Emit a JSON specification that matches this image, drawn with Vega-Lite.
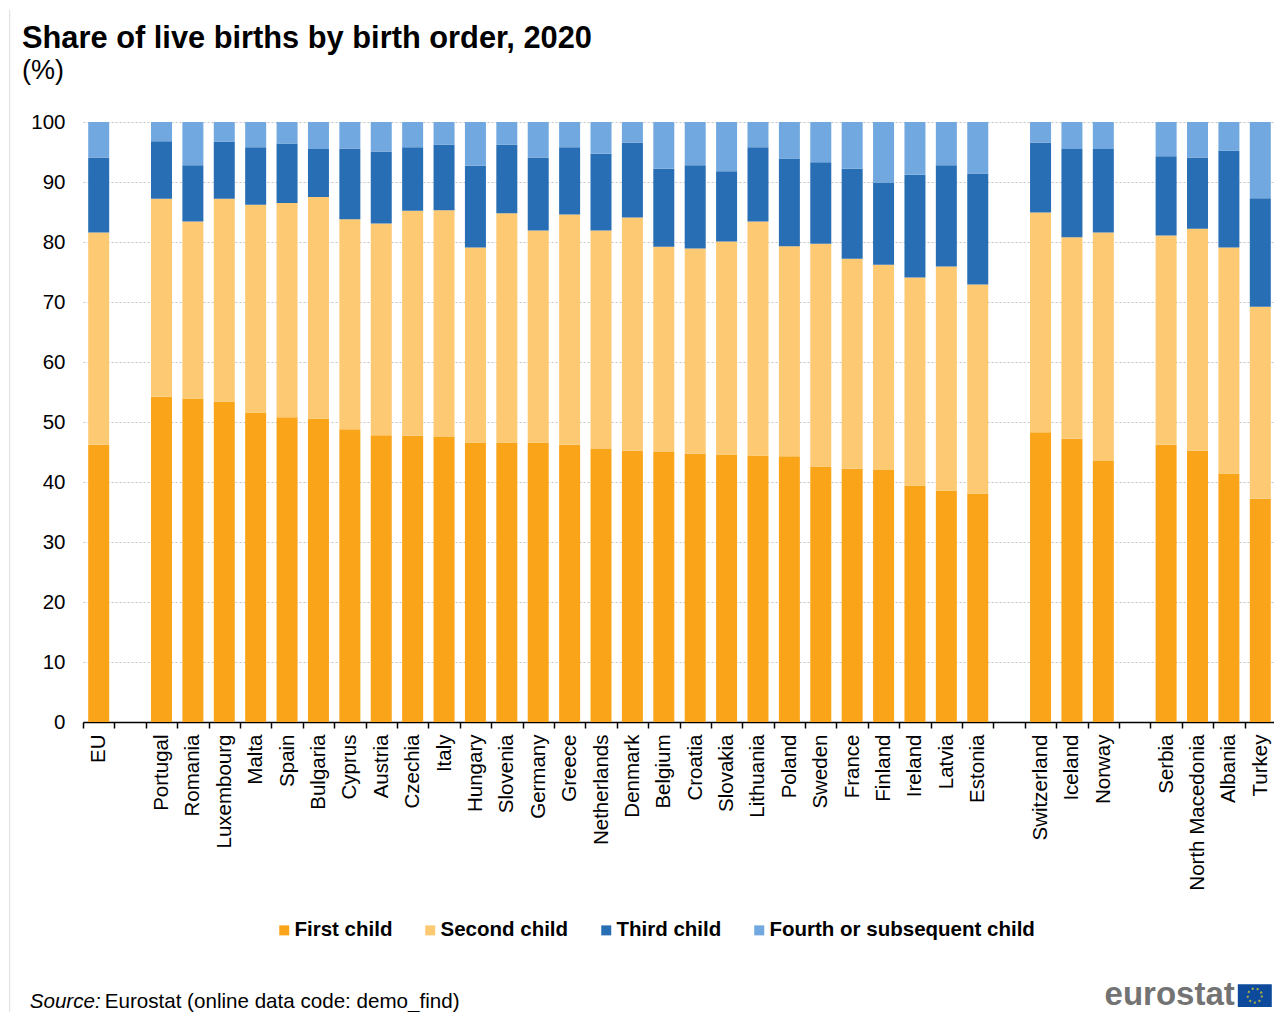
{"$schema":"https://vega.github.io/schema/vega-lite/v6.json","width":1193,"height":600,"autosize":{"type":"none"},"padding":{"left":83,"top":122,"right":0,"bottom":290},"background":"white","title":{"text":"Share of live births by birth order, 2020","subtitle":"(%)","anchor":"start","frame":"group","dx":-61,"offset":-76,"font":"Liberation Sans","fontSize":30.8,"fontWeight":"bold","color":"#000000","subtitleFont":"Liberation Sans","subtitleFontSize":27,"subtitleColor":"#000000","subtitlePadding":4},"config":{"view":{"stroke":null},"font":"Liberation Sans"},"data":{"values":[
{"c":"EU","o":"First child","v":46.2},{"c":"EU","o":"Second child","v":35.4},{"c":"EU","o":"Third child","v":12.5},{"c":"EU","o":"Fourth or subsequent child","v":5.9},
{"c":"Portugal","o":"First child","v":54.2},{"c":"Portugal","o":"Second child","v":33.0},{"c":"Portugal","o":"Third child","v":9.6},{"c":"Portugal","o":"Fourth or subsequent child","v":3.2},
{"c":"Romania","o":"First child","v":53.9},{"c":"Romania","o":"Second child","v":29.5},{"c":"Romania","o":"Third child","v":9.4},{"c":"Romania","o":"Fourth or subsequent child","v":7.2},
{"c":"Luxembourg","o":"First child","v":53.4},{"c":"Luxembourg","o":"Second child","v":33.8},{"c":"Luxembourg","o":"Third child","v":9.5},{"c":"Luxembourg","o":"Fourth or subsequent child","v":3.3},
{"c":"Malta","o":"First child","v":51.6},{"c":"Malta","o":"Second child","v":34.6},{"c":"Malta","o":"Third child","v":9.6},{"c":"Malta","o":"Fourth or subsequent child","v":4.2},
{"c":"Spain","o":"First child","v":50.8},{"c":"Spain","o":"Second child","v":35.7},{"c":"Spain","o":"Third child","v":9.9},{"c":"Spain","o":"Fourth or subsequent child","v":3.6},
{"c":"Bulgaria","o":"First child","v":50.6},{"c":"Bulgaria","o":"Second child","v":36.9},{"c":"Bulgaria","o":"Third child","v":8.0},{"c":"Bulgaria","o":"Fourth or subsequent child","v":4.5},
{"c":"Cyprus","o":"First child","v":48.8},{"c":"Cyprus","o":"Second child","v":35.0},{"c":"Cyprus","o":"Third child","v":11.8},{"c":"Cyprus","o":"Fourth or subsequent child","v":4.4},
{"c":"Austria","o":"First child","v":47.8},{"c":"Austria","o":"Second child","v":35.3},{"c":"Austria","o":"Third child","v":12.0},{"c":"Austria","o":"Fourth or subsequent child","v":4.9},
{"c":"Czechia","o":"First child","v":47.7},{"c":"Czechia","o":"Second child","v":37.5},{"c":"Czechia","o":"Third child","v":10.6},{"c":"Czechia","o":"Fourth or subsequent child","v":4.2},
{"c":"Italy","o":"First child","v":47.5},{"c":"Italy","o":"Second child","v":37.8},{"c":"Italy","o":"Third child","v":10.9},{"c":"Italy","o":"Fourth or subsequent child","v":3.8},
{"c":"Hungary","o":"First child","v":46.6},{"c":"Hungary","o":"Second child","v":32.5},{"c":"Hungary","o":"Third child","v":13.6},{"c":"Hungary","o":"Fourth or subsequent child","v":7.3},
{"c":"Slovenia","o":"First child","v":46.6},{"c":"Slovenia","o":"Second child","v":38.2},{"c":"Slovenia","o":"Third child","v":11.4},{"c":"Slovenia","o":"Fourth or subsequent child","v":3.8},
{"c":"Germany","o":"First child","v":46.6},{"c":"Germany","o":"Second child","v":35.3},{"c":"Germany","o":"Third child","v":12.2},{"c":"Germany","o":"Fourth or subsequent child","v":5.9},
{"c":"Greece","o":"First child","v":46.2},{"c":"Greece","o":"Second child","v":38.4},{"c":"Greece","o":"Third child","v":11.2},{"c":"Greece","o":"Fourth or subsequent child","v":4.2},
{"c":"Netherlands","o":"First child","v":45.5},{"c":"Netherlands","o":"Second child","v":36.4},{"c":"Netherlands","o":"Third child","v":12.8},{"c":"Netherlands","o":"Fourth or subsequent child","v":5.3},
{"c":"Denmark","o":"First child","v":45.2},{"c":"Denmark","o":"Second child","v":38.9},{"c":"Denmark","o":"Third child","v":12.5},{"c":"Denmark","o":"Fourth or subsequent child","v":3.4},
{"c":"Belgium","o":"First child","v":45.0},{"c":"Belgium","o":"Second child","v":34.2},{"c":"Belgium","o":"Third child","v":13.0},{"c":"Belgium","o":"Fourth or subsequent child","v":7.8},
{"c":"Croatia","o":"First child","v":44.7},{"c":"Croatia","o":"Second child","v":34.2},{"c":"Croatia","o":"Third child","v":13.9},{"c":"Croatia","o":"Fourth or subsequent child","v":7.2},
{"c":"Slovakia","o":"First child","v":44.6},{"c":"Slovakia","o":"Second child","v":35.5},{"c":"Slovakia","o":"Third child","v":11.7},{"c":"Slovakia","o":"Fourth or subsequent child","v":8.2},
{"c":"Lithuania","o":"First child","v":44.4},{"c":"Lithuania","o":"Second child","v":39.0},{"c":"Lithuania","o":"Third child","v":12.4},{"c":"Lithuania","o":"Fourth or subsequent child","v":4.2},
{"c":"Poland","o":"First child","v":44.3},{"c":"Poland","o":"Second child","v":35.0},{"c":"Poland","o":"Third child","v":14.6},{"c":"Poland","o":"Fourth or subsequent child","v":6.1},
{"c":"Sweden","o":"First child","v":42.6},{"c":"Sweden","o":"Second child","v":37.1},{"c":"Sweden","o":"Third child","v":13.6},{"c":"Sweden","o":"Fourth or subsequent child","v":6.7},
{"c":"France","o":"First child","v":42.2},{"c":"France","o":"Second child","v":35.0},{"c":"France","o":"Third child","v":15.0},{"c":"France","o":"Fourth or subsequent child","v":7.8},
{"c":"Finland","o":"First child","v":42.0},{"c":"Finland","o":"Second child","v":34.2},{"c":"Finland","o":"Third child","v":13.7},{"c":"Finland","o":"Fourth or subsequent child","v":10.1},
{"c":"Ireland","o":"First child","v":39.4},{"c":"Ireland","o":"Second child","v":34.7},{"c":"Ireland","o":"Third child","v":17.1},{"c":"Ireland","o":"Fourth or subsequent child","v":8.8},
{"c":"Latvia","o":"First child","v":38.6},{"c":"Latvia","o":"Second child","v":37.3},{"c":"Latvia","o":"Third child","v":16.9},{"c":"Latvia","o":"Fourth or subsequent child","v":7.2},
{"c":"Estonia","o":"First child","v":38.1},{"c":"Estonia","o":"Second child","v":34.8},{"c":"Estonia","o":"Third child","v":18.5},{"c":"Estonia","o":"Fourth or subsequent child","v":8.6},
{"c":"Switzerland","o":"First child","v":48.3},{"c":"Switzerland","o":"Second child","v":36.6},{"c":"Switzerland","o":"Third child","v":11.7},{"c":"Switzerland","o":"Fourth or subsequent child","v":3.4},
{"c":"Iceland","o":"First child","v":47.2},{"c":"Iceland","o":"Second child","v":33.6},{"c":"Iceland","o":"Third child","v":14.7},{"c":"Iceland","o":"Fourth or subsequent child","v":4.5},
{"c":"Norway","o":"First child","v":43.5},{"c":"Norway","o":"Second child","v":38.1},{"c":"Norway","o":"Third child","v":13.9},{"c":"Norway","o":"Fourth or subsequent child","v":4.5},
{"c":"Serbia","o":"First child","v":46.2},{"c":"Serbia","o":"Second child","v":34.9},{"c":"Serbia","o":"Third child","v":13.2},{"c":"Serbia","o":"Fourth or subsequent child","v":5.7},
{"c":"North Macedonia","o":"First child","v":45.2},{"c":"North Macedonia","o":"Second child","v":37.0},{"c":"North Macedonia","o":"Third child","v":11.9},{"c":"North Macedonia","o":"Fourth or subsequent child","v":5.9},
{"c":"Albania","o":"First child","v":41.4},{"c":"Albania","o":"Second child","v":37.7},{"c":"Albania","o":"Third child","v":16.1},{"c":"Albania","o":"Fourth or subsequent child","v":4.8},
{"c":"Turkey","o":"First child","v":37.2},{"c":"Turkey","o":"Second child","v":32.0},{"c":"Turkey","o":"Third child","v":18.1},{"c":"Turkey","o":"Fourth or subsequent child","v":12.7}
]},
"encoding":{"x":{"field":"c","type":"nominal","title":null,"scale":{"domain":["EU"," ","Portugal","Romania","Luxembourg","Malta","Spain","Bulgaria","Cyprus","Austria","Czechia","Italy","Hungary","Slovenia","Germany","Greece","Netherlands","Denmark","Belgium","Croatia","Slovakia","Lithuania","Poland","Sweden","France","Finland","Ireland","Latvia","Estonia","  ","Switzerland","Iceland","Norway","   ","Serbia","North Macedonia","Albania","Turkey"],"paddingInner":0,"paddingOuter":0},"axis":{"labelAngle":270,"labelAlign":"right","labelBaseline":"middle","labelFont":"Liberation Sans","labelFontSize":20.5,"labelColor":"#000000","labelPadding":6,"labelOverlap":false,"labelBound":false,"labelFlush":false,"domainColor":"#000000","domainWidth":1.5,"tickColor":"#000000","tickWidth":1.5,"tickSize":6,"tickBand":"extent","grid":false}},
"y":{"type":"quantitative","scale":{"domain":[0,100],"nice":false}}},
"layer":[
{"transform":[{"calculate":"indexof(['First child','Second child','Third child','Fourth or subsequent child'],datum.o)","as":"k"}],"mark":{"type":"bar","strokeWidth":0,"width":21},"encoding":{"y":{"field":"v","type":"quantitative","stack":"zero","title":null,"scale":{"domain":[0,100],"nice":false},"axis":{"values":[0,10,20,30,40,50,60,70,80,90,100],"domain":false,"ticks":false,"labelFont":"Liberation Sans","labelFontSize":20.5,"labelColor":"#000000","labelPadding":18,"grid":true,"gridColor":"#c4c4c4","gridDash":[2,2],"gridWidth":1}},"order":{"field":"k","type":"quantitative"},"color":{"field":"o","type":"nominal","title":null,"scale":{"domain":["First child","Second child","Third child","Fourth or subsequent child"],"range":["#FAA519","#FDC972","#286EB4","#71A8DF"]},"legend":{"orient":"none","legendX":191,"legendY":798,"direction":"horizontal","columns":4,"symbolType":"square","symbolSize":100,"symbolStrokeWidth":0,"labelFont":"Liberation Sans","labelFontSize":20.5,"labelFontWeight":"bold","labelColor":"#000000","labelOffset":0,"columnPadding":27,"labelLimit":400}}}},
{"data":{"values":[{}]},"mark":{"type":"rule","color":"#dddddd","strokeWidth":1,"xOffset":-89},"encoding":{"x":{"datum":"EU"},"y":{"datum":-48.3},"y2":{"datum":118.7}}},
{"data":{"values":[{}]},"mark":{"type":"text","align":"left","baseline":"middle","dx":-69,"font":"Liberation Sans","fontSize":20.6,"fontStyle":"italic","color":"#000000","text":"Source:"},"encoding":{"x":{"datum":"EU"},"y":{"datum":-46.7}}},
{"data":{"values":[{}]},"mark":{"type":"text","align":"left","baseline":"middle","dx":6,"font":"Liberation Sans","fontSize":20.6,"color":"#000000","text":"Eurostat (online data code: demo_find)"},"encoding":{"x":{"datum":"EU"},"y":{"datum":-46.7}}},
{"data":{"values":[{}]},"mark":{"type":"text","align":"right","baseline":"middle","dx":-25.5,"font":"Liberation Sans","fontSize":33,"fontWeight":"bold","color":"#737373","text":"eurostat"},"encoding":{"x":{"datum":"Turkey"},"y":{"datum":-45.5}}},
{"data":{"values":[{}]},"mark":{"type":"bar","width":34,"color":"#0E4A9C","xOffset":-5.5},"encoding":{"x":{"datum":"Turkey"},"y":{"datum":-43.7},"y2":{"datum":-47.5}}},
{"data":{"values":[{}]},"mark":{"type":"point","shape":"circle","size":200,"filled":false,"stroke":"#F2DC1E","strokeWidth":2,"strokeDash":[2,3],"xOffset":-5.5},"encoding":{"x":{"datum":"Turkey"},"y":{"datum":-45.6}}}
]}
